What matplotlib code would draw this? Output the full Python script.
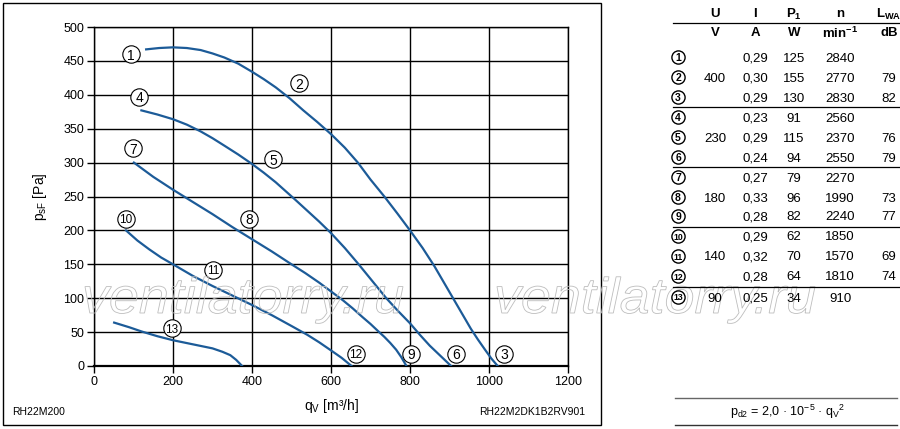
import numpy as np
import matplotlib
matplotlib.use('Agg')
import matplotlib.pyplot as plt
from matplotlib.textpath import TextPath
from matplotlib.patches import PathPatch, Rectangle
from matplotlib.font_manager import FontProperties
from matplotlib.transforms import Affine2D

plt.rcParams['font.family'] = ['Liberation Sans', 'DejaVu Sans']
plt.rcParams['mathtext.fontset'] = 'custom'
plt.rcParams['mathtext.rm'] = 'Liberation Sans'
plt.rcParams['mathtext.it'] = 'Liberation Sans:italic'
plt.rcParams['mathtext.bf'] = 'Liberation Sans:bold'
plt.rcParams['mathtext.default'] = 'regular'

# curves (qv in m3/h, psF in Pa)
qv_400 = [132, 165, 200, 235, 270, 300, 330, 365, 400, 430, 460, 495, 530, 565, 600,
          635, 668, 700, 735, 768, 800, 832, 862, 885, 908, 931, 954, 972, 990, 1006, 1022]
p_400 = [467, 469, 470, 469, 466, 461, 455, 446, 434, 423, 411, 395, 377, 360, 342,
         322, 300, 275, 250, 225, 200, 174, 147, 124, 101, 78, 55, 39, 24, 11, 0]
qv_230 = [120, 160, 200, 235, 270, 300, 330, 365, 400, 430, 460, 485, 510, 540, 570,
          600, 635, 670, 705, 740, 770, 800, 825, 850, 877, 904]
p_230 = [377, 371, 364, 356, 346, 336, 325, 312, 298, 285, 271, 258, 245, 229, 213,
         196, 174, 150, 125, 100, 81, 63, 46, 30, 15, 0]
qv_180 = [101, 150, 200, 250, 300, 350, 400, 450, 500, 535, 570, 600, 630, 655, 680,
          700, 720, 735, 750, 765, 778, 791]
p_180 = [300, 279, 260, 242, 224, 205, 187, 169, 150, 137, 123, 110, 97, 85, 72,
         62, 51, 43, 34, 24, 13, 0]
qv_140 = [81, 110, 140, 170, 200, 250, 300, 350, 400, 450, 500, 540, 570, 600, 627, 652]
p_140 = [200, 185, 172, 160, 150, 133, 118, 104, 90, 75, 59, 46, 35, 23, 12, 0]
qv_90 = [51, 90, 120, 160, 200, 250, 300, 325, 345, 360, 375]
p_90 = [64, 57, 51, 44, 38, 32, 26, 21, 16, 9, 0]

# numbered markers on the chart
lab_num = [1, 2, 3, 4, 5, 6, 7, 8, 9, 10, 11, 12, 13]
lab_qv = [93, 520, 1039, 114, 453, 916, 99, 392, 802, 81, 302, 663, 197]
lab_p = [460, 417, 18, 397, 305, 18, 321, 217, 18, 217, 142, 18, 56]

# table
tab_U = ['', '400', '', '', '230', '', '', '180', '', '', '140', '', '90']
tab_I = ['0,29', '0,30', '0,29', '0,23', '0,29', '0,24', '0,27', '0,33', '0,28',
         '0,29', '0,32', '0,28', '0,25']
tab_P = ['125', '155', '130', '91', '115', '94', '79', '96', '82', '62', '70', '64', '34']
tab_n = ['2840', '2770', '2830', '2560', '2370', '2550', '2270', '1990', '2240',
         '1850', '1570', '1810', '910']
tab_L = ['', '79', '82', '', '76', '79', '', '73', '77', '', '69', '74', '']

blue = '#1c5b98'

fig = plt.figure(figsize=(9, 4.29), dpi=100)
ax = fig.add_axes([94/900, 1-366/429, 474/900, 339/429])

for q, p in [(qv_400, p_400), (qv_230, p_230), (qv_180, p_180), (qv_140, p_140), (qv_90, p_90)]:
    ax.plot(q, p, color=blue, lw=1.6, zorder=3, solid_joinstyle='round')

for n, q, p in zip(lab_num, lab_qv, lab_p):
    ax.plot(q, p, 'o', ms=12.5, mfc='white', mec='black', mew=0.8, zorder=4)
    fs = 10 if n < 10 else 8.5
    ax.text(q, p, str(n), ha='center', va='center_baseline', fontsize=fs, zorder=5)

ax.set_xlim(0, 1200)
ax.set_ylim(0, 500)
ax.set_xticks(range(0, 1201, 200))
ax.set_yticks(range(0, 501, 50))
ax.grid(True, color='black', lw=1.0)
ax.tick_params(direction='out', length=5, width=1, labelsize=9, pad=2)
for s in ax.spines.values():
    s.set_linewidth(1.0)
ax.spines['bottom'].set_linewidth(1.6)
ax.set_xlabel('q$_V$ [m³/h]', fontsize=10, labelpad=7)
ax.set_ylabel('p$_{sF}$ [Pa]', fontsize=10, labelpad=10)

# overlay in pixel coordinates for frame, table and watermark
ov = fig.add_axes([0, 0, 1, 1], zorder=3)
ov.set_xlim(0, 900)
ov.set_ylim(429, 0)
ov.axis('off')
ov.patch.set_visible(False)

ov.add_patch(Rectangle((3, 3), 598, 422, fill=False, ec='black', lw=1.0))
ov.text(12, 412, 'RH22M200', fontsize=7.5, va='center', ha='left')
ov.text(585, 412, 'RH22M2DK1B2RV901', fontsize=7.5, va='center', ha='right')

# watermark
tp = TextPath((0, 0), 'ventilatorry.ru', size=1,
              prop=FontProperties(family='Liberation Sans', style='italic'))
ext = tp.get_extents()
for x0 in [85, 497]:
    tr = Affine2D().translate(-ext.x0, 0).scale(318/ext.width, -50).translate(x0, 313)
    ov.add_patch(PathPatch(tr.transform_path(tp), fc='none', ec='#bdbdbd', lw=0.6))

# table
cx = [678, 715, 755, 794, 840, 889]
heads = ['U', 'I', r'$\mathbf{P_1}$', 'n', r'$\mathbf{L_{WA}}$']
units = ['V', 'A', 'W', r'$\mathbf{min^{-1}}$', 'dB']
for x, h, u in zip(cx[1:], heads, units):
    ov.text(x, 14, h, ha='center', va='center', fontsize=9.5, fontweight='bold')
    ov.text(x, 33, u, ha='center', va='center', fontsize=9.5, fontweight='bold')
ov.plot([673, 900], [23, 23], color='black', lw=0.9)

row_y = [57, 77, 97, 117, 137, 157, 177, 197, 216, 236, 256, 276, 297]
for i, y in enumerate(row_y):
    ov.plot(cx[0], y, 'o', ms=9.5, mfc='white', mec='black', mew=1.0)
    ov.text(cx[0], y, str(lab_num[i]), ha='center', va='center_baseline',
            fontsize=7.5 if lab_num[i] < 10 else 6.3, fontweight='bold')
    for x, col in zip(cx[1:], [tab_U, tab_I, tab_P, tab_n, tab_L]):
        ov.text(x, y, col[i], ha='center', va='center_baseline', fontsize=9.5)
for y in [107, 167, 227, 287]:
    ov.plot([673, 900], [y, y], color='black', lw=0.9)

ov.plot([675, 897], [398, 398], color='#666666', lw=1.0)
ov.plot([675, 897], [425, 425], color='#333333', lw=1.0)
ov.text(788, 412, 'p$_{d2}$ = 2,0 · 10$^{-5}$ · q$_V$$^2$', ha='center', va='center', fontsize=9)

fig.savefig('out.png', dpi=100)
